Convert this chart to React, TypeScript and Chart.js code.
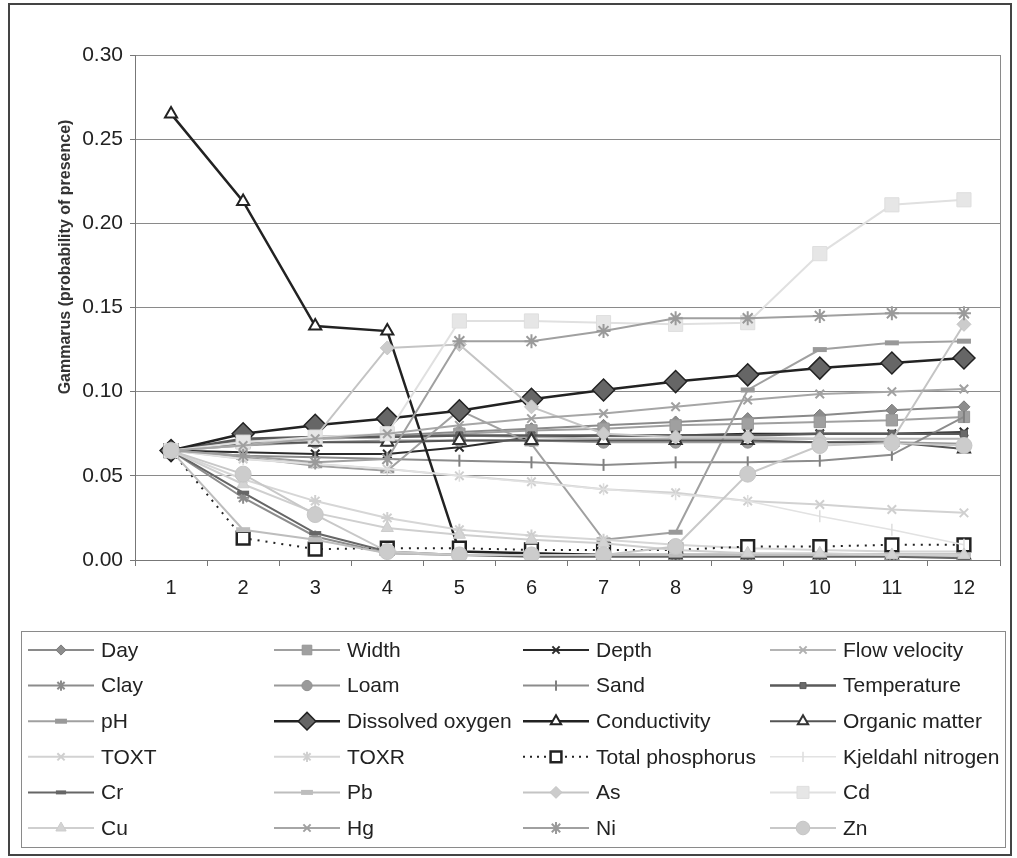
import React, { useEffect, useRef } from "react";
import { Chart, registerables } from "chart.js";

Chart.register(...registerables);

const FONT = "'Liberation Sans', Arial, sans-serif";

// ---------- data ----------
const categories = ["1", "2", "3", "4", "5", "6", "7", "8", "9", "10", "11", "12"];
const yTickValues = [0, 0.05, 0.1, 0.15, 0.2, 0.25, 0.3];
const yTitle = "Gammarus (probability of presence)";

const seriesNames = [
  "Day", "Width", "Depth", "Flow velocity",
  "Clay", "Loam", "Sand", "Temperature",
  "pH", "Dissolved oxygen", "Conductivity", "Organic matter",
  "TOXT", "TOXR", "Total phosphorus", "Kjeldahl nitrogen",
  "Cr", "Pb", "As", "Cd",
  "Cu", "Hg", "Ni", "Zn",
];

const day = [0.065, 0.071, 0.073, 0.074, 0.076, 0.078, 0.080, 0.082, 0.084, 0.086, 0.089, 0.091];
const width = [0.065, 0.070, 0.072, 0.073, 0.075, 0.077, 0.078, 0.080, 0.081, 0.082, 0.083, 0.085];
const depth = [0.065, 0.064, 0.063, 0.063, 0.067, 0.073, 0.074, 0.074, 0.075, 0.075, 0.075, 0.076];
const flowVelocity = [0.065, 0.070, 0.072, 0.073, 0.074, 0.073, 0.072, 0.072, 0.072, 0.072, 0.072, 0.072];
const clay = [0.065, 0.037, 0.014, 0.004, 0.003, 0.003, 0.003, 0.003, 0.003, 0.003, 0.003, 0.003];
const loam = [0.065, 0.068, 0.070, 0.071, 0.071, 0.071, 0.070, 0.070, 0.070, 0.070, 0.070, 0.069];
const sand = [0.065, 0.062, 0.061, 0.060, 0.059, 0.058, 0.0565, 0.058, 0.058, 0.059, 0.0625, 0.085];
const temperature = [0.065, 0.072, 0.073, 0.073, 0.074, 0.074, 0.074, 0.074, 0.074, 0.075, 0.075, 0.075];
const pH = [0.065, 0.061, 0.056, 0.053, 0.089, 0.069, 0.012, 0.0165, 0.101, 0.125, 0.129, 0.130];
const dissolvedOxygen = [0.065, 0.075, 0.080, 0.084, 0.0887, 0.0955, 0.101, 0.106, 0.110, 0.114, 0.117, 0.120];
const conductivity = [0.265, 0.213, 0.139, 0.136, 0.005, 0.004, 0.003, 0.003, 0.003, 0.003, 0.003, 0.003];
const organicMatter = [0.065, 0.069, 0.070, 0.070, 0.071, 0.071, 0.071, 0.071, 0.071, 0.070, 0.070, 0.066];
const toxt = [0.065, 0.060, 0.057, 0.054, 0.050, 0.0465, 0.042, 0.040, 0.035, 0.033, 0.030, 0.028];
const toxr = [0.065, 0.048, 0.035, 0.025, 0.018, 0.0145, 0.012, 0.009, 0.007, 0.006, 0.005, 0.005];
const totalPhosphorus = [0.065, 0.013, 0.0065, 0.007, 0.007, 0.006, 0.006, 0.006, 0.008, 0.008, 0.009, 0.009];
const kjeldahlNitrogen = [0.065, 0.060, 0.057, 0.054, 0.050, 0.046, 0.042, 0.039, 0.035, 0.026, 0.018, 0.009];
const cr = [0.065, 0.040, 0.016, 0.005, 0.003, 0.002, 0.002, 0.002, 0.002, 0.002, 0.002, 0.001];
const pb = [0.065, 0.018, 0.012, 0.004, 0.003, 0.003, 0.003, 0.003, 0.003, 0.003, 0.003, 0.003];
const as = [0.065, 0.068, 0.073, 0.126, 0.128, 0.091, 0.075, 0.073, 0.073, 0.072, 0.071, 0.140];
const cd = [0.065, 0.070, 0.073, 0.075, 0.142, 0.142, 0.141, 0.140, 0.141, 0.182, 0.211, 0.214];
const cu = [0.065, 0.045, 0.028, 0.019, 0.015, 0.012, 0.010, 0.006, 0.004, 0.004, 0.003, 0.003];
const hg = [0.065, 0.068, 0.072, 0.075, 0.080, 0.084, 0.087, 0.091, 0.095, 0.0986, 0.100, 0.1016];
const ni = [0.065, 0.062, 0.058, 0.060, 0.130, 0.130, 0.136, 0.1436, 0.1436, 0.145, 0.1466, 0.1466];
const zn = [0.065, 0.051, 0.027, 0.005, 0.003, 0.003, 0.003, 0.008, 0.051, 0.068, 0.0695, 0.068];

const seriesValues = [
  day, width, depth, flowVelocity,
  clay, loam, sand, temperature,
  pH, dissolvedOxygen, conductivity, organicMatter,
  toxt, toxr, totalPhosphorus, kjeldahlNitrogen,
  cr, pb, as, cd,
  cu, hg, ni, zn,
];

// ---------- styles ----------
type Sty = {
  line: string; fill: string; stroke: string; style: string; r: number;
  lw: number; pbw: number; rot?: number; dash?: number[];
};
const styles: Sty[] = [
  { line: "#8a8a8a", fill: "#8c8c8c", stroke: "#7a7a7a", style: "rectRot", r: 6, lw: 2, pbw: 1 },
  { line: "#a0a0a0", fill: "#a0a0a0", stroke: "#969696", style: "rect", r: 8, lw: 2, pbw: 1 },
  { line: "#2a2a2a", fill: "#2a2a2a", stroke: "#2a2a2a", style: "crossRot", r: 6, lw: 2, pbw: 2 },
  { line: "#b4b4b4", fill: "#b4b4b4", stroke: "#b0b0b0", style: "crossRot", r: 6, lw: 2, pbw: 2 },
  { line: "#8c8c8c", fill: "#8c8c8c", stroke: "#8c8c8c", style: "star", r: 6, lw: 2, pbw: 2 },
  { line: "#9a9a9a", fill: "#9a9a9a", stroke: "#909090", style: "circle", r: 6, lw: 2, pbw: 1 },
  { line: "#8c8c8c", fill: "#8c8c8c", stroke: "#808080", style: "line", r: 6, lw: 2, pbw: 2, rot: 90 },
  { line: "#5a5a5a", fill: "#6a6a6a", stroke: "#5a5a5a", style: "rect", r: 5, lw: 2.5, pbw: 1 },
  { line: "#a0a0a0", fill: "#a0a0a0", stroke: "#999999", style: "line", r: 7, lw: 2, pbw: 5 },
  { line: "#222222", fill: "#666666", stroke: "#222222", style: "rectRot", r: 11, lw: 2.5, pbw: 1.5 },
  { line: "#222222", fill: "#ffffff", stroke: "#222222", style: "triangle", r: 7, lw: 2.5, pbw: 2 },
  { line: "#555555", fill: "#ffffff", stroke: "#333333", style: "triangle", r: 7, lw: 2, pbw: 2 },
  { line: "#d2d2d2", fill: "#d2d2d2", stroke: "#cfcfcf", style: "crossRot", r: 6, lw: 2, pbw: 2 },
  { line: "#d6d6d6", fill: "#d6d6d6", stroke: "#d0d0d0", style: "star", r: 6, lw: 2, pbw: 2 },
  { line: "#222222", fill: "#ffffff", stroke: "#222222", style: "rect", r: 9, lw: 2, pbw: 2.5, dash: [2, 6] },
  { line: "#e2e2e2", fill: "#e2e2e2", stroke: "#dddddd", style: "line", r: 6, lw: 1.5, pbw: 1.5, rot: 90 },
  { line: "#666666", fill: "#666666", stroke: "#666666", style: "line", r: 6, lw: 2, pbw: 4 },
  { line: "#bdbdbd", fill: "#bdbdbd", stroke: "#bdbdbd", style: "line", r: 7, lw: 2, pbw: 5 },
  { line: "#c4c4c4", fill: "#cccccc", stroke: "#c4c4c4", style: "rectRot", r: 7, lw: 2, pbw: 1 },
  { line: "#e0e0e0", fill: "#e6e6e6", stroke: "#dedede", style: "rect", r: 10, lw: 2, pbw: 1 },
  { line: "#cfcfcf", fill: "#d4d4d4", stroke: "#cccccc", style: "triangle", r: 7, lw: 2, pbw: 1 },
  { line: "#a6a6a6", fill: "#a6a6a6", stroke: "#a0a0a0", style: "crossRot", r: 6, lw: 2, pbw: 2 },
  { line: "#a0a0a0", fill: "#a0a0a0", stroke: "#9a9a9a", style: "star", r: 7, lw: 2, pbw: 2 },
  { line: "#c8c8c8", fill: "#cccccc", stroke: "#c6c6c6", style: "circle", r: 8, lw: 2, pbw: 1 },
];

// ---------- custom marker drawing for legend ----------
function drawMarker(ctx: CanvasRenderingContext2D, s: Sty, x: number, y: number, scale = 1) {
  const r = s.r * scale;
  ctx.save();
  ctx.translate(x, y);
  if (s.rot) ctx.rotate((s.rot * Math.PI) / 180);
  ctx.fillStyle = s.fill;
  ctx.strokeStyle = s.stroke;
  ctx.lineWidth = s.pbw;
  ctx.setLineDash([]);
  ctx.beginPath();
  switch (s.style) {
    case "circle":
      ctx.arc(0, 0, r, 0, Math.PI * 2);
      ctx.fill(); ctx.stroke();
      break;
    case "rect": {
      const h = r * Math.SQRT1_2;
      ctx.rect(-h, -h, 2 * h, 2 * h);
      ctx.fill(); ctx.stroke();
      break;
    }
    case "rectRot":
      ctx.moveTo(0, -r); ctx.lineTo(r, 0); ctx.lineTo(0, r); ctx.lineTo(-r, 0); ctx.closePath();
      ctx.fill(); ctx.stroke();
      break;
    case "triangle": {
      const a = r * 1.0;
      ctx.moveTo(0, -a); ctx.lineTo(a * 0.866, a * 0.5); ctx.lineTo(-a * 0.866, a * 0.5); ctx.closePath();
      ctx.fill(); ctx.stroke();
      break;
    }
    case "crossRot": {
      const h = r * Math.SQRT1_2;
      ctx.moveTo(-h, -h); ctx.lineTo(h, h); ctx.moveTo(-h, h); ctx.lineTo(h, -h);
      ctx.stroke();
      break;
    }
    case "star": {
      const h = r * Math.SQRT1_2;
      ctx.moveTo(-h, -h); ctx.lineTo(h, h); ctx.moveTo(-h, h); ctx.lineTo(h, -h);
      ctx.moveTo(0, -r); ctx.lineTo(0, r);
      ctx.stroke();
      break;
    }
    case "line":
      ctx.moveTo(-r, 0); ctx.lineTo(r, 0);
      ctx.stroke();
      break;
  }
  ctx.restore();
}

const LEG_BOX = { x: 21, y: 631, w: 984, h: 216 };
const LEG_COLS = [28, 274, 523, 770];
const LEG_ROW0 = 650;
const LEG_ROW_H = 35.6;

const decorPlugin = {
  id: "decor",
  beforeDraw(chart: any) {
    const { ctx } = chart;
    ctx.save();
    ctx.fillStyle = "#ffffff";
    ctx.fillRect(0, 0, chart.width, chart.height);
    ctx.restore();
  },
  beforeDatasetsDraw(chart: any) {
    const { ctx, chartArea } = chart;
    ctx.save();
    ctx.strokeStyle = "#8a8a8a";
    ctx.lineWidth = 1;
    ctx.beginPath();
    ctx.moveTo(Math.round(chartArea.right) + 0.5, chartArea.top);
    ctx.lineTo(Math.round(chartArea.right) + 0.5, chartArea.bottom);
    ctx.stroke();
    ctx.restore();
  },
  afterDraw(chart: any) {
    const { ctx } = chart;
    ctx.save();
    // outer frame
    ctx.strokeStyle = "#444444";
    ctx.lineWidth = 2;
    ctx.strokeRect(9, 4, 1002, 851);
    // y title
    ctx.save();
    ctx.translate(66, 257);
    ctx.rotate(-Math.PI / 2);
    ctx.fillStyle = "#333333";
    ctx.font = `bold 16px ${FONT}`;
    ctx.textAlign = "center";
    ctx.textBaseline = "middle";
    ctx.fillText(yTitle, 0, 0);
    ctx.restore();
    // legend box
    ctx.strokeStyle = "#8a8a8a";
    ctx.lineWidth = 1;
    ctx.strokeRect(LEG_BOX.x + 0.5, LEG_BOX.y + 0.5, LEG_BOX.w, LEG_BOX.h);
    chart.data.datasets.forEach((ds: any, i: number) => {
      const s = styles[i];
      const row = Math.floor(i / 4);
      const col = i % 4;
      const y = LEG_ROW0 + row * LEG_ROW_H;
      const x0 = LEG_COLS[col];
      ctx.save();
      ctx.strokeStyle = s.line;
      ctx.lineWidth = s.lw;
      ctx.setLineDash(s.dash ? [2, 5] : []);
      ctx.beginPath();
      ctx.moveTo(x0, y);
      ctx.lineTo(x0 + 66, y);
      ctx.stroke();
      ctx.restore();
      drawMarker(ctx, s, x0 + 33, y, s.style === "rectRot" && s.r > 8 ? 0.8 : 0.85);
      ctx.fillStyle = "#222222";
      ctx.font = `21px ${FONT}`;
      ctx.textAlign = "left";
      ctx.textBaseline = "middle";
      ctx.fillText(ds.label, x0 + 73, y + 1);
    });
    ctx.restore();
  },
};

export default function App() {
  const ref = useRef<HTMLCanvasElement | null>(null);
  useEffect(() => {
    if (!ref.current) return;
    const datasets = seriesNames.map((name, i) => {
      const s = styles[i];
      return {
        label: name,
        data: seriesValues[i],
        borderColor: s.line,
        backgroundColor: s.fill,
        borderWidth: s.lw,
        borderDash: s.dash || [],
        pointStyle: s.style,
        pointRadius: s.r,
        pointRotation: s.rot || 0,
        pointBackgroundColor: s.fill,
        pointBorderColor: s.stroke,
        pointBorderWidth: s.pbw,
        tension: 0,
        fill: false,
        order: -i,
      };
    });
    const chart = new Chart(ref.current, {
      type: "line",
      data: { labels: categories, datasets },
      options: {
        responsive: false,
        animation: false,
        layout: { padding: { left: 0, top: 55, right: 17, bottom: 258 } },
        plugins: { legend: { display: false }, tooltip: { enabled: false } },
        scales: {
          x: {
            offset: true,
            grid: { display: true, drawOnChartArea: false, drawTicks: true, tickLength: 6, color: "#777777", offset: true },
            border: { display: true, color: "#777777", width: 1 },
            ticks: { color: "#222222", font: { size: 20, family: FONT }, padding: 10, maxRotation: 0, autoSkip: false },
            afterFit: (s: any) => { s.height = 40; },
          },
          y: {
            min: 0,
            max: 0.3,
            afterBuildTicks: (s: any) => { s.ticks = yTickValues.map((v) => ({ value: v })); },
            ticks: { color: "#222222", font: { size: 21, family: FONT }, padding: 7, callback: (v: any) => Number(v).toFixed(2) },
            grid: { color: "#8a8a8a", lineWidth: 1, tickLength: 5, tickColor: "#777777" },
            border: { display: true, color: "#777777", width: 1 },
            afterFit: (s: any) => { s.width = 135; },
          },
        },
      },
      plugins: [decorPlugin],
    } as any);
    return () => chart.destroy();
  }, []);
  return (
    <div style={{ position: "absolute", left: 0, top: 0, width: 1017, height: 858 }}>
      <canvas ref={ref} width={1017} height={858} style={{ display: "block" }} />
    </div>
  );
}
